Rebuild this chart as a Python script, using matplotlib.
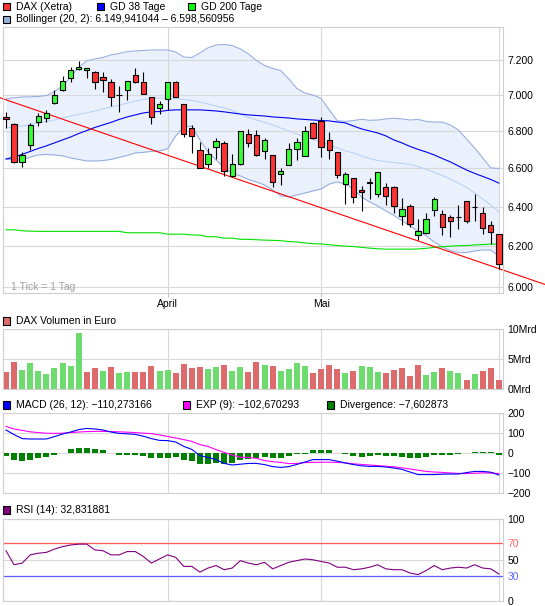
import numpy as np
import matplotlib
matplotlib.use('Agg')
import matplotlib.pyplot as plt
from matplotlib.patches import Rectangle
from matplotlib.ticker import FixedLocator, FixedFormatter, NullLocator, NullFormatter

plt.rcParams['font.family'] = ['Liberation Sans', 'DejaVu Sans']

# ---------------- data ----------------
opens = [6876, 6838, 6636, 6723, 6850, 6870, 6958, 7029, 7099, 7150,
         7144, 7133, 7103, 7071, 6998, 7026, 7112, 7071, 6987, 6927,
         6976, 7071, 6947, 6815, 6696, 6625, 6712, 6733, 6557, 6625,
         6782, 6777, 6690, 6669, 6568, 6620, 6701, 6663, 6842, 6857,
         6750, 6685, 6517, 6548, 6485, 6530, 6466, 6499, 6504, 6352,
         6404, 6254, 6268, 6383, 6362, 6346, 6346, 6429, 6398, 6368,
         6306, 6259]
highs = [6907, 6842, 6687, 6843, 6897, 6916, 7029, 7107, 7160, 7196,
         7155, 7139, 7128, 7088, 7052, 7081, 7155, 7128, 6987, 6964,
         7071, 7081, 6947, 6832, 6741, 6706, 6760, 6744, 6674, 6798,
         6809, 6805, 6764, 6669, 6604, 6734, 6760, 6827, 6850, 6876,
         6793, 6685, 6578, 6548, 6506, 6551, 6578, 6520, 6509, 6444,
         6414, 6336, 6366, 6450, 6383, 6356, 6409, 6429, 6465, 6397,
         6327, 6259]
lows = [6816, 6628, 6607, 6697, 6829, 6848, 6947, 7025, 7074, 7141,
        7099, 7033, 7015, 6940, 6907, 6973, 7070, 7004, 6841, 6896,
        6916, 6987, 6769, 6683, 6602, 6602, 6647, 6559, 6552, 6615,
        6712, 6663, 6650, 6499, 6510, 6620, 6642, 6663, 6755, 6661,
        6647, 6548, 6414, 6419, 6378, 6439, 6450, 6409, 6368, 6306,
        6296, 6232, 6263, 6352, 6254, 6244, 6284, 6316, 6327, 6259,
        6209, 6089]
closes = [6865, 6631, 6669, 6833, 6884, 6901, 7000, 7081, 7144, 7161,
          7155, 7071, 7087, 6987, 6998, 7081, 7076, 7004, 6876, 6950,
          7071, 6987, 6782, 6775, 6602, 6674, 6744, 6583, 6625, 6798,
          6733, 6670, 6750, 6527, 6588, 6704, 6739, 6798, 6760, 6712,
          6696, 6563, 6568, 6450, 6475, 6520, 6578, 6455, 6404, 6388,
          6312, 6274, 6336, 6439, 6294, 6325, 6346, 6327, 6398, 6289,
          6270, 6112]
volume_mrd = [2.85, 4.5, 3.2, 4.35, 3.0, 2.5, 3.5, 4.35, 3.85, 9.4,
              2.85, 3.5, 3.0, 3.7, 2.7, 2.85, 2.85, 2.85, 3.85, 3.0,
              3.2, 2.7, 4.2, 3.5, 3.7, 3.35, 3.7, 4.0, 3.0, 3.7,
              2.85, 4.5, 4.0, 3.85, 3.0, 3.35, 4.35, 3.85, 2.7, 3.35,
              4.0, 3.35, 2.7, 3.0, 3.85, 3.7, 2.85, 2.7, 3.2, 3.5,
              2.2, 4.0, 2.35, 2.85, 3.5, 3.0, 2.7, 1.5, 2.5, 3.0,
              3.5, 1.5]
boll_upper = [6978, 6985, 6989, 6990, 6992, 6997, 7019, 7051, 7102, 7159,
              7194, 7206, 7214, 7229, 7238, 7248, 7252, 7255, 7258, 7258,
              7258, 7246, 7217, 7214, 7241, 7270, 7287, 7290, 7284, 7264,
              7235, 7197, 7168, 7151, 7139, 7091, 7037, 7011, 7000, 6981,
              6917, 6857, 6853, 6858, 6865, 6859, 6861, 6867, 6871, 6867,
              6861, 6864, 6853, 6850, 6849, 6834, 6806, 6757, 6709, 6655,
              6602, 6599]
boll_mid = [6817, 6823, 6828, 6837, 6845, 6853, 6861, 6872, 6883, 6892,
            6900, 6911, 6922, 6933, 6944, 6955, 6966, 6975, 6980, 6983,
            6983, 6980, 6975, 6969, 6961, 6950, 6939, 6928, 6914, 6894,
            6875, 6861, 6848, 6834, 6817, 6801, 6784, 6768, 6755, 6741,
            6725, 6709, 6693, 6682, 6666, 6652, 6641, 6636, 6631, 6626,
            6620, 6610, 6594, 6578, 6562, 6543, 6522, 6499, 6470, 6439,
            6408, 6374]
boll_lower = [6649, 6644, 6644, 6660, 6671, 6674, 6671, 6666, 6655, 6647,
              6639, 6639, 6641, 6647, 6658, 6668, 6682, 6685, 6690, 6693,
              6704, 6773, 6823, 6828, 6752, 6687, 6644, 6602, 6573, 6560,
              6541, 6528, 6512, 6486, 6455, 6450, 6460, 6470, 6481, 6491,
              6517, 6528, 6517, 6491, 6450, 6424, 6403, 6378, 6355, 6329,
              6301, 6276, 6251, 6221, 6196, 6178, 6168, 6168, 6176, 6181,
              6181, 6150]
gd38 = [6649, 6660, 6674, 6690, 6706, 6720, 6736, 6752, 6768, 6787,
        6803, 6820, 6834, 6848, 6864, 6878, 6889, 6900, 6906, 6908,
        6914, 6917, 6917, 6917, 6917, 6914, 6911, 6906, 6900, 6894,
        6889, 6886, 6883, 6878, 6875, 6872, 6867, 6864, 6861, 6858,
        6856, 6850, 6845, 6828, 6812, 6801, 6790, 6774, 6752, 6736,
        6717, 6701, 6687, 6671, 6652, 6634, 6612, 6591, 6573, 6557,
        6541, 6522]
gd200 = [6282, 6282, 6277, 6275, 6274, 6274, 6274, 6274, 6274, 6274,
         6274, 6274, 6274, 6274, 6274, 6267, 6267, 6267, 6267, 6267,
         6260, 6260, 6260, 6256, 6255, 6247, 6247, 6240, 6240, 6234,
         6234, 6232, 6230, 6229, 6227, 6223, 6221, 6216, 6212, 6211,
         6207, 6203, 6200, 6198, 6194, 6190, 6187, 6185, 6185, 6185,
         6185, 6186, 6189, 6194, 6197, 6200, 6202, 6203, 6206, 6208,
         6210, 6211]
trend_idx = [0, 61]
trend_val = [6973, 6089]
macd = [115, 92, 72, 70, 70, 70, 82, 95, 105, 117,
        123, 120, 115, 105, 98, 96, 93, 84, 72, 63,
        62, 55, 33, 18, -13, -22, -33, -52, -60, -56,
        -52, -52, -58, -68, -72, -68, -57, -45, -33, -33,
        -33, -41, -50, -58, -64, -67, -67, -70, -75, -82,
        -95, -108, -108, -108, -106, -105, -105, -98, -92, -92,
        -96, -110.27]
macd_exp = [133, 120, 113, 106, 102, 99, 98, 99, 102, 105,
            107, 108, 108, 107, 106, 104, 102, 99, 97, 90,
            83, 75, 67, 58, 42, 33, 17, 3, -10, -21,
            -22, -27, -38, -43, -47, -53, -52, -48, -47, -46,
            -46, -47, -49, -54, -57, -60, -63, -66, -69, -74,
            -80, -86, -92, -95, -97, -100, -102, -103, -101, -99,
            -100, -102.67]
macd_div = [-17, -35, -40, -35, -25, -20, -10, 0, 18, 23,
            23, 18, 13, 0, -10, -10, -10, -15, -25, -25,
            -25, -20, -35, -40, -55, -55, -50, -55, -50, -35,
            -30, -25, -20, -25, -25, -15, -5, -3, 13, 13,
            13, 0, -5, -15, -20, -15, -10, -15, -15, -20,
            -25, -25, -20, -10, -10, -10, -5, 0, 5, 5,
            5, -7.6]
rsi = [61, 44, 46, 56, 58, 59, 63, 66, 68, 69,
       69, 62, 61, 56, 56, 60, 60, 54, 46, 51,
       56, 53, 42, 42, 35, 40, 43, 38, 40, 49,
       46, 44, 47, 39, 43, 47, 49, 51, 50, 48,
       46, 41, 41, 38, 39, 41, 44, 39, 38, 38,
       34, 32, 37, 43, 38, 40, 41, 40, 44, 40,
       39, 32.8]
month_idx = [20, 39]
month_labels = ['April', 'Mai']
price_ticks = [6000, 6200, 6400, 6600, 6800, 7000, 7200]
price_labels = ['6.000', '6.200', '6.400', '6.600', '6.800', '7.000', '7.200']
vol_ticks = [0, 5, 10]
vol_labels = ['0Mrd', '5Mrd', '10Mrd']
macd_ticks = [-200, -100, 0, 100, 200]
macd_labels = ['\u2212200', '\u2212100', '0', '100', '200']
rsi_ticks = [0, 30, 50, 70, 100]
rsi_labels = ['0', '30', '50', '70', '100']

# ---------------- styling ----------------
W, H = 545, 606
FS = 7.5
GRID = '#d8d8d8'
RED = '#ff3333'
GREEN = '#33ff33'

fig = plt.figure(figsize=(W / 100, H / 100), dpi=100)


def px_axes(l, t, r, b):
    return fig.add_axes([l / W, 1 - b / H, (r - l) / W, (b - t) / H])


def style(ax, yt, yl):
    for s in ax.spines.values():
        s.set_color('#cfcfcf')
        s.set_linewidth(0.8)
    ax.set_axisbelow(True)
    ax.yaxis.tick_right()
    ax.yaxis.set_major_locator(FixedLocator(yt))
    ax.yaxis.set_major_formatter(FixedFormatter(yl))
    ax.yaxis.set_minor_locator(NullLocator())
    ax.yaxis.set_minor_formatter(NullFormatter())
    ax.tick_params(axis='y', length=0, pad=3, labelsize=FS)
    ax.grid(True, color=GRID, linewidth=0.8)
    ax.set_xlim(-0.37, 61.51)
    ax.set_xticks(month_idx)
    ax.axvline(len(closes) - 1, color=GRID, linewidth=0.8, zorder=0.5)


n = len(closes)
x = np.arange(n)
o = np.array(opens, float)
c = np.array(closes, float)
h = np.array(highs, float)
lo = np.array(lows, float)

# ---- main price panel ----
ax = px_axes(3, 27, 503, 293)
ax.set_yscale('log')
ax.set_ylim(5971, 7393)
style(ax, price_ticks, price_labels)
ax.set_xticklabels(month_labels)
ax.tick_params(axis='x', length=3, color='#c0c0c0', pad=1, labelsize=FS)

ax.fill_between(x, boll_lower, boll_upper, color='#eaf1fc', zorder=0.3, linewidth=0)
ax.plot(x, boll_upper, color='#98b0e0', lw=0.8, zorder=2)
ax.plot(x, boll_lower, color='#98b0e0', lw=0.8, zorder=2)
ax.plot(x, boll_mid, color='#bcd2f7', lw=0.8, zorder=2)
ax.plot(x, gd38, color='#0000ee', lw=0.8, zorder=2.1)
ax.plot(x, gd200, color='#00e000', lw=0.8, zorder=2.1)

# trend line, extended across the whole figure width
dpp = (61.51 + 0.37) / 500.0
tx = np.array([-0.37 - 3 * dpp, 61.51 + 42 * dpp])
k = (np.log(trend_val[1]) - np.log(trend_val[0])) / (trend_idx[1] - trend_idx[0])
ty = trend_val[0] * np.exp(k * (tx - trend_idx[0]))
ax.plot(tx, ty, color='#ff0000', lw=0.8, zorder=2.2, clip_on=False)

ax.vlines(x, lo, h, color='black', lw=0.8, zorder=3)
body_col = np.where(c > o, GREEN, np.where(c < o, RED, 'black'))
ax.bar(x, np.abs(c - o), bottom=np.minimum(o, c), width=0.66,
       color=body_col, edgecolor='black', linewidth=0.8, zorder=4)

ax.text(8 / 500, 6 / 266, '1 Tick = 1 Tag', transform=ax.transAxes,
        color='#a0a0a0', fontsize=FS, ha='left', va='center')

# ---- volume panel ----
axv = px_axes(3, 329, 503, 389)
axv.set_ylim(0, 10)
style(axv, vol_ticks, vol_labels)
axv.tick_params(axis='x', length=0, labelbottom=False)
axv.yaxis.grid(True, color=GRID, linewidth=0.8)
prev = np.concatenate([[c[0] + 1], c[:-1]])
vcol = np.where(c > prev, '#6ddb6d', '#dd6b6b')
axv.bar(x, volume_mrd, width=0.74, color=vcol, zorder=2)

# ---- MACD panel ----
axm = px_axes(3, 413, 503, 493)
axm.set_ylim(-200, 200)
style(axm, macd_ticks, macd_labels)
axm.tick_params(axis='x', length=0, labelbottom=False)
axm.bar(x, macd_div, width=0.74, color='#008000', zorder=2)
axm.plot(x, macd_exp, color='#ff00ff', lw=0.8, zorder=3)
axm.plot(x, macd, color='#0000ff', lw=0.8, zorder=3)

# ---- RSI panel ----
axr = px_axes(3, 518.6, 503, 601)
axr.set_ylim(0, 100)
style(axr, rsi_ticks, rsi_labels)
axr.tick_params(axis='x', length=0, labelbottom=False)
axr.axhline(70, color='#ff5c5c', lw=0.9, zorder=1)
axr.axhline(30, color='#5c5cff', lw=0.9, zorder=1)
for lab in axr.get_yticklabels():
    if lab.get_text() == '70':
        lab.set_color('#ff6666')
    elif lab.get_text() == '30':
        lab.set_color('#6666ff')
axr.plot(x, rsi, color='#800080', lw=0.8, zorder=3)


# ---- legends ----
def legend_item(xp, yc, color, text):
    fig.add_artist(Rectangle((xp / W, 1 - (yc + 3.6) / H), 7.2 / W, 7.2 / H,
                             transform=fig.transFigure, facecolor=color,
                             edgecolor='black', linewidth=0.8))
    fig.text((xp + 13) / W, 1 - yc / H, text, fontsize=FS, ha='left', va='center')


legend_item(3, 6.5, RED, 'DAX (Xetra)')
legend_item(97, 6.5, '#0000ff', 'GD 38 Tage')
legend_item(188, 6.5, '#00ff00', 'GD 200 Tage')
legend_item(3, 19.3, '#98b0e0', 'Bollinger (20, 2): 6.149,941044 \u2013 6.598,560956')
legend_item(3, 321, '#dd6b6b', 'DAX Volumen in Euro')
legend_item(3, 405, '#0000ff', 'MACD (26, 12): \u2212110,273166')
legend_item(183, 405, '#ff00ff', 'EXP (9): \u2212102,670293')
legend_item(327, 405, '#008000', 'Divergence: \u22127,602873')
legend_item(3, 510, '#800080', 'RSI (14): 32,831881')

fig.savefig('out.png', dpi=100)
